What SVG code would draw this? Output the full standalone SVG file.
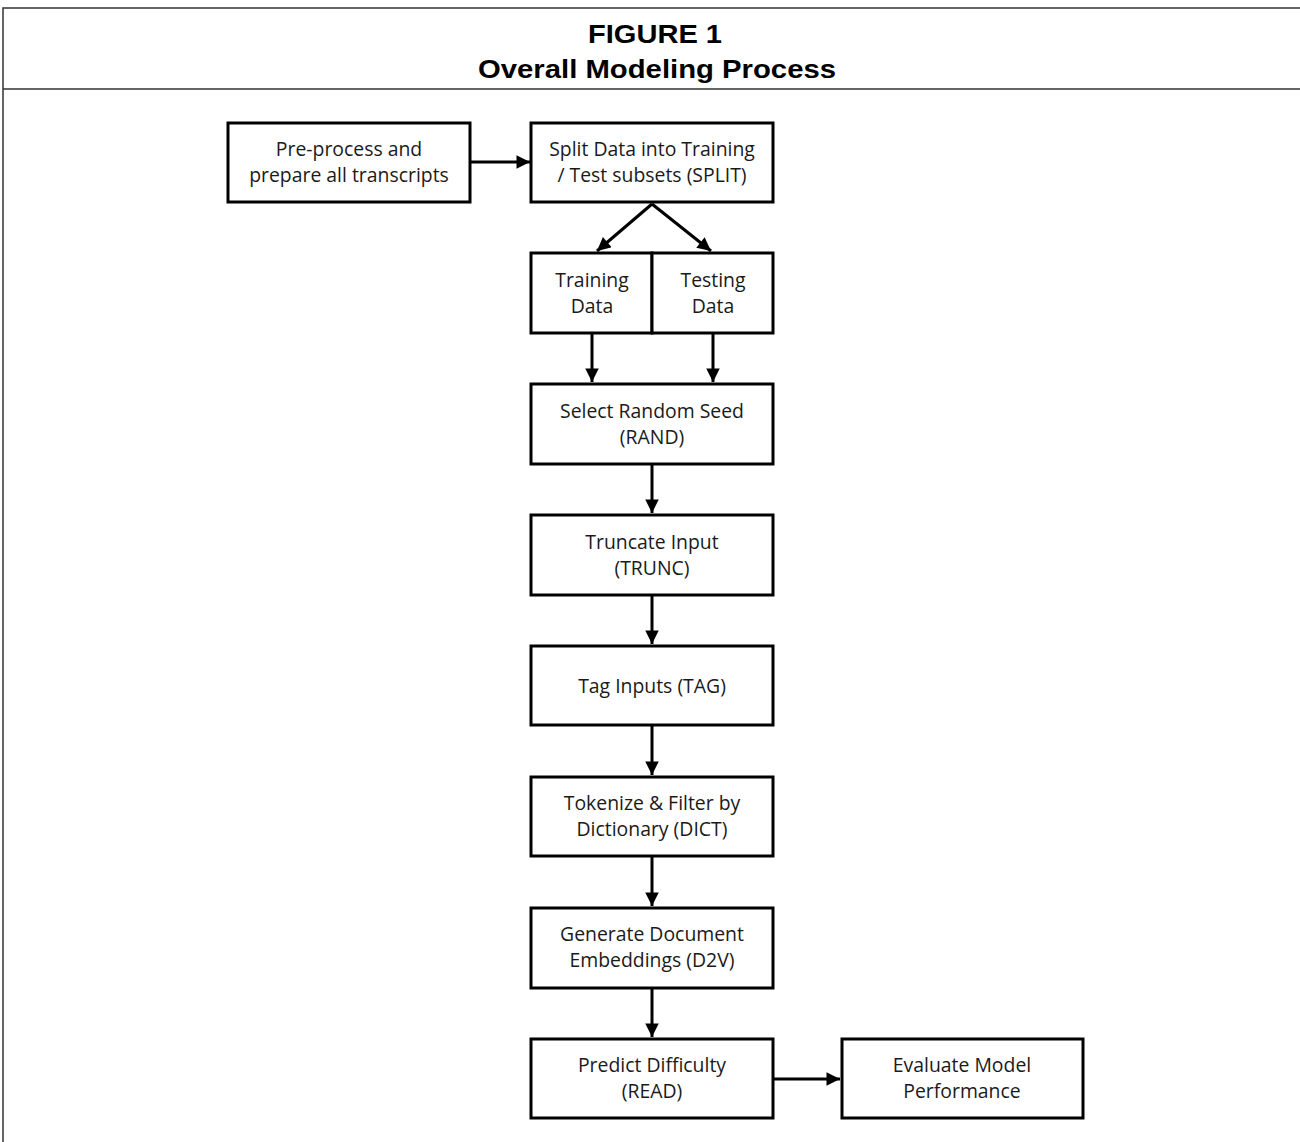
<svg xmlns="http://www.w3.org/2000/svg" width="1300" height="1142" viewBox="0 0 1300 1142">
<style>
.box{fill:#fff;stroke:#000;stroke-width:3}
.t{font-family:"Open Sans","Liberation Sans",sans-serif;font-size:19.4px;fill:#1a1a1a;text-anchor:middle}
.title{font-family:"Liberation Sans",Arial,sans-serif;font-weight:bold;font-size:26px;fill:#000;text-anchor:middle}
.c{stroke:#000;stroke-width:3;fill:none;marker-end:url(#ah)}
.frame{stroke:#333;stroke-width:1.5;fill:none}
</style>
<defs>
<marker id="ah" viewBox="0 0 10 10" refX="10" refY="5" markerWidth="4.8" markerHeight="4.5" orient="auto" markerUnits="strokeWidth">
<path d="M0,0 L10,5 L0,10 z" fill="#000"/>
</marker>
</defs>
<rect width="1300" height="1142" fill="#fff"/>
<g id="frame">
<path class="frame" d="M1300,8 H3 V1142"/>
<path class="frame" d="M3,89 H1300"/>
<text class="title" x="655" y="43" textLength="134" lengthAdjust="spacingAndGlyphs">FIGURE 1</text>
<text class="title" x="657" y="78" textLength="358" lengthAdjust="spacingAndGlyphs">Overall Modeling Process</text>
</g>
<g id="connectors">
<line class="c" x1="470" y1="162" x2="530" y2="162"/>
<line class="c" x1="652" y1="204" x2="597" y2="251"/>
<line class="c" x1="652" y1="204" x2="711" y2="251"/>
<line class="c" x1="592" y1="334" x2="592" y2="382"/>
<line class="c" x1="713" y1="334" x2="713" y2="382"/>
<line class="c" x1="652" y1="465" x2="652" y2="513"/>
<line class="c" x1="652" y1="596" x2="652" y2="644"/>
<line class="c" x1="652" y1="726" x2="652" y2="775"/>
<line class="c" x1="652" y1="857" x2="652" y2="906"/>
<line class="c" x1="652" y1="989" x2="652" y2="1037"/>
<line class="c" x1="773" y1="1079" x2="840" y2="1079"/>
</g>
<g id="preprocess">
<rect class="box" x="228" y="123" width="242" height="79"/>
<text class="t" x="349" y="156">Pre-process and</text>
<text class="t" x="349" y="182">prepare all transcripts</text>
</g>
<g id="split">
<rect class="box" x="531" y="123" width="242" height="79"/>
<text class="t" x="652" y="156">Split Data into Training</text>
<text class="t" x="652" y="182">/ Test subsets (SPLIT)</text>
</g>
<g id="training">
<rect class="box" x="531" y="253" width="121" height="80"/>
<text class="t" x="592" y="287">Training</text>
<text class="t" x="592" y="313">Data</text>
</g>
<g id="testing">
<rect class="box" x="652" y="253" width="121" height="80"/>
<text class="t" x="713" y="287">Testing</text>
<text class="t" x="713" y="313">Data</text>
</g>
<g id="rand">
<rect class="box" x="531" y="384" width="242" height="80"/>
<text class="t" x="652" y="418">Select Random Seed</text>
<text class="t" x="652" y="444">(RAND)</text>
</g>
<g id="trunc">
<rect class="box" x="531" y="515" width="242" height="80"/>
<text class="t" x="652" y="549">Truncate Input</text>
<text class="t" x="652" y="575">(TRUNC)</text>
</g>
<g id="tag">
<rect class="box" x="531" y="646" width="242" height="79"/>
<text class="t" x="652" y="693">Tag Inputs (TAG)</text>
</g>
<g id="dict">
<rect class="box" x="531" y="777" width="242" height="79"/>
<text class="t" x="652" y="810">Tokenize &amp; Filter by</text>
<text class="t" x="652" y="836">Dictionary (DICT)</text>
</g>
<g id="d2v">
<rect class="box" x="531" y="908" width="242" height="80"/>
<text class="t" x="652" y="941">Generate Document</text>
<text class="t" x="652" y="967">Embeddings (D2V)</text>
</g>
<g id="read">
<rect class="box" x="531" y="1039" width="242" height="79"/>
<text class="t" x="652" y="1072">Predict Difficulty</text>
<text class="t" x="652" y="1098">(READ)</text>
</g>
<g id="evaluate">
<rect class="box" x="842" y="1039" width="241" height="79"/>
<text class="t" x="962" y="1072">Evaluate Model</text>
<text class="t" x="962" y="1098">Performance</text>
</g>
</svg>
